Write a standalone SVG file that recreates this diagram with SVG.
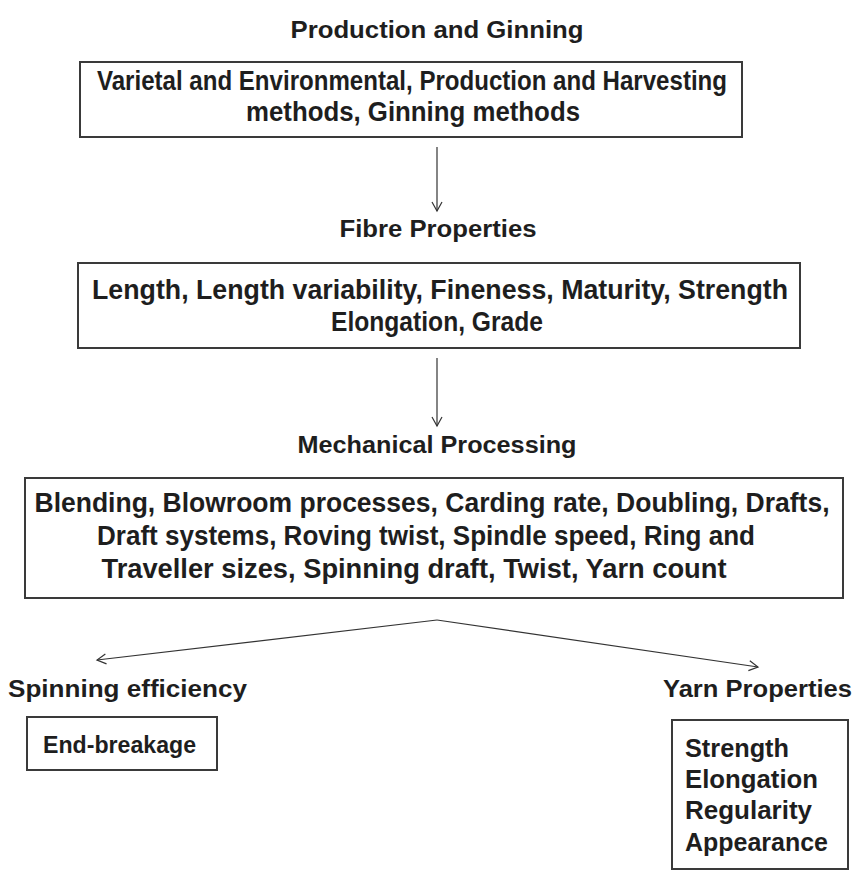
<svg xmlns="http://www.w3.org/2000/svg" width="859" height="872" viewBox="0 0 859 872">
<defs>
<marker id="ah" markerWidth="12" markerHeight="12" refX="10" refY="6" orient="auto" markerUnits="userSpaceOnUse">
<path d="M1,1 L10,6 L1,11" fill="none" stroke="#333" stroke-width="1.2"/>
</marker>
<style>
.box{fill:#fff;stroke:#3a3a3a;stroke-width:2}
.hd{font-family:"Liberation Sans",Arial,sans-serif;font-weight:bold;font-size:23px;fill:#1e1e1e;text-anchor:middle}
.bt{font-family:"Liberation Sans",Arial,sans-serif;font-weight:bold;font-size:27px;fill:#1e1e1e;text-anchor:middle}
.lt{font-family:"Liberation Sans",Arial,sans-serif;font-weight:bold;font-size:23px;fill:#1e1e1e}
.yl{font-family:"Liberation Sans",Arial,sans-serif;font-weight:bold;font-size:25px;fill:#1e1e1e}
.cn{fill:none;stroke:#333;stroke-width:1.2}
</style>
</defs>
<rect width="859" height="872" fill="#fff"/>

<g id="connectors">
<line class="cn" x1="437" y1="147" x2="437" y2="211" marker-end="url(#ah)"/>
<line class="cn" x1="437" y1="358" x2="437" y2="426" marker-end="url(#ah)"/>
<line class="cn" x1="437" y1="620" x2="97" y2="660" marker-end="url(#ah)"/>
<line class="cn" x1="437" y1="620" x2="758" y2="667" marker-end="url(#ah)"/>
</g>

<g id="production">
<text class="hd" x="437" y="38" textLength="293" lengthAdjust="spacingAndGlyphs">Production and Ginning</text>
<rect class="box" x="80" y="62" width="662" height="75"/>
<text class="bt" x="412" y="90" textLength="630" lengthAdjust="spacingAndGlyphs">Varietal and Environmental, Production and Harvesting</text>
<text class="bt" x="413" y="121" textLength="334" lengthAdjust="spacingAndGlyphs">methods, Ginning methods</text>
</g>

<g id="fibre">
<text class="hd" x="438" y="237" textLength="197" lengthAdjust="spacingAndGlyphs">Fibre Properties</text>
<rect class="box" x="78" y="263" width="722" height="85"/>
<text class="bt" x="440" y="299" textLength="696" lengthAdjust="spacingAndGlyphs">Length, Length variability, Fineness, Maturity, Strength</text>
<text class="bt" x="437" y="331" textLength="212" lengthAdjust="spacingAndGlyphs">Elongation, Grade</text>
</g>

<g id="mechanical">
<text class="hd" x="437" y="453" textLength="279" lengthAdjust="spacingAndGlyphs">Mechanical Processing</text>
<rect class="box" x="25" y="478" width="818" height="120"/>
<text class="bt" x="432" y="512" textLength="795" lengthAdjust="spacingAndGlyphs">Blending, Blowroom processes, Carding rate, Doubling, Drafts,</text>
<text class="bt" x="426" y="545" textLength="658" lengthAdjust="spacingAndGlyphs">Draft systems, Roving twist, Spindle speed, Ring and</text>
<text class="bt" x="414" y="578" textLength="625" lengthAdjust="spacingAndGlyphs">Traveller sizes, Spinning draft, Twist, Yarn count</text>
</g>

<g id="spinning">
<text class="lt" x="8" y="697" textLength="239" lengthAdjust="spacingAndGlyphs">Spinning efficiency</text>
<rect class="box" x="27" y="717" width="190" height="53"/>
<text class="lt" x="43" y="753" textLength="153" lengthAdjust="spacingAndGlyphs">End-breakage</text>
</g>

<g id="yarn">
<text class="lt" x="663" y="697" textLength="189" lengthAdjust="spacingAndGlyphs">Yarn Properties</text>
<rect class="box" x="672" y="720" width="176" height="149"/>
<text class="yl" x="685" y="757" textLength="104" lengthAdjust="spacingAndGlyphs">Strength</text>
<text class="yl" x="685" y="788" textLength="133" lengthAdjust="spacingAndGlyphs">Elongation</text>
<text class="yl" x="685" y="819" textLength="127" lengthAdjust="spacingAndGlyphs">Regularity</text>
<text class="yl" x="685" y="851" textLength="143" lengthAdjust="spacingAndGlyphs">Appearance</text>
</g>
</svg>
